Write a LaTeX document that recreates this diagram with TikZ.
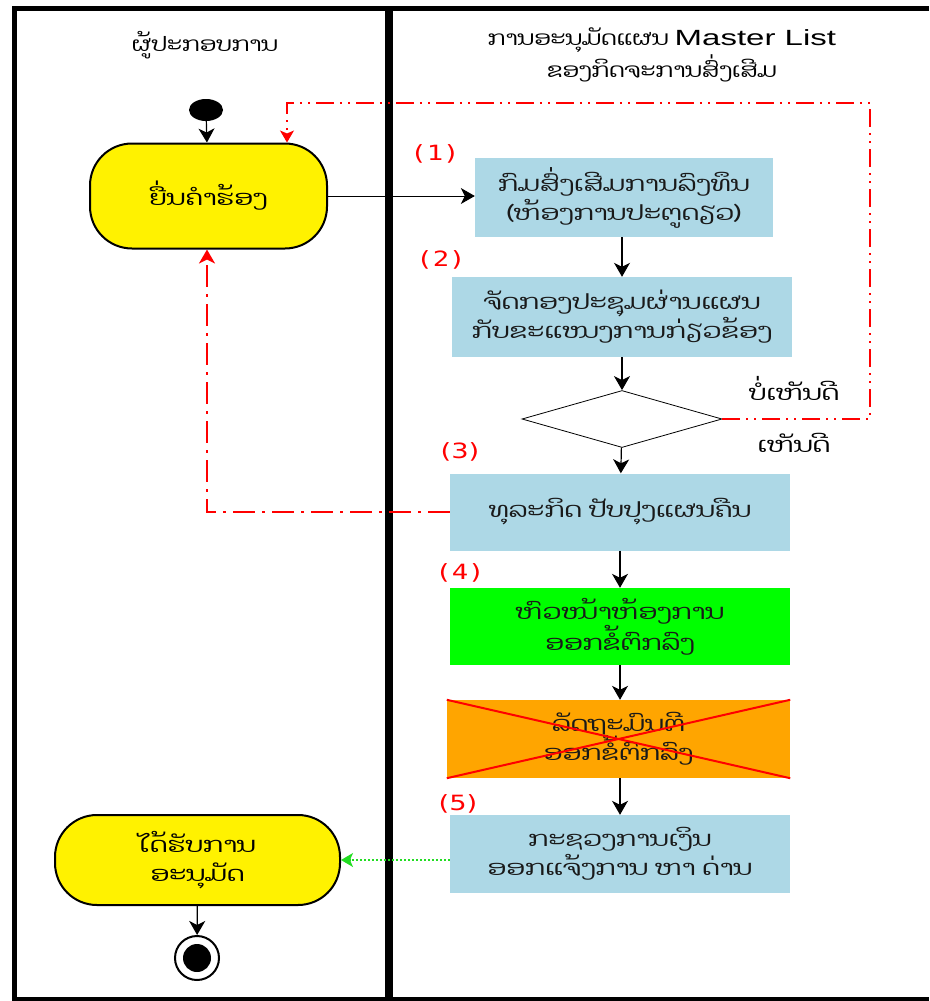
\documentclass[tikz,border=0pt]{standalone}
\usepackage{fontspec}
\usetikzlibrary{arrows.meta,shapes.geometric}
\newfontfamily\laofont[Script=Lao,FakeStretch=1.3]{Dhyana}
\newfontfamily\laohead[Script=Lao,FakeStretch=1.2]{Dhyana}
\newfontfamily\latinfont[FakeStretch=1.5]{Liberation Sans}
\newfontfamily\monofont[FakeStretch=1.3]{DejaVu Sans Mono}
\newfontfamily\dvfont[FakeStretch=1.3]{DejaVu Sans}
\definecolor{lblue}{HTML}{ADD8E6}
\definecolor{ygreen}{HTML}{00FF00}
\definecolor{orng}{HTML}{FFA500}
\definecolor{dotgreen}{HTML}{22DD22}
\tikzset{
  lao/.style={font=\laofont\fontsize{21}{29}\selectfont},
  laoh/.style={font=\laohead\fontsize{20}{32}\selectfont},
  actbox/.style={rectangle, inner sep=0pt, align=center, lao, text=black!90},
  startbox/.style={rectangle, rounded corners=42pt, draw=black, line width=2pt, fill=yellow, inner sep=0pt, align=center, lao},
  flow/.style={draw=black, line width=1.2pt, -{Stealth[length=14pt,width=16pt,inset=4pt]}},
  numlbl/.style={text=red, font=\monofont\fontsize{21}{24}\selectfont, inner sep=0pt},
  numlblb/.style={text=red, font=\dvfont\fontsize{21}{24}\selectfont, inner sep=0pt},
  redthin/.style={draw=red, line width=1.1pt, dash pattern=on 18pt off 6pt on 2pt off 6pt on 2pt off 6pt},
  redthick/.style={draw=red, line width=2.8pt, dash pattern=on 22pt off 7pt on 3pt off 7pt},
  frame/.style={draw=black, line width=5pt},
}
\begin{document}
\begin{tikzpicture}[x=1pt,y=-1pt]
\useasboundingbox (0,0) rectangle (929,1001);
\fill[white] (0,0) rectangle (929,1001);
% frame
\draw[frame] (929,8.5) -- (14.5,8.5) -- (14.5,999) -- (929,999);
\draw[draw=black, line width=8pt] (389,8.5) -- (389,999);
% headers
\node[laoh] (h1) at (205,45) {ຜູ້ປະກອບການ};
\node[laoh, align=center] (h2) at (662,55) {ການອະນຸມັດແຜນ {\latinfont\fontsize{22}{32}\selectfont Master List}\\ຂອງກິດຈະການສົ່ງເສີມ};
% start
\node[ellipse, fill=black, minimum width=34pt, minimum height=22pt, inner sep=0pt] (st) at (206,110) {};
\node[startbox, minimum width=237pt, minimum height=105pt] (y1) at (208.5,196) {ຍື່ນຄຳຮ້ອງ};
% boxes
\node[actbox, fill=lblue, minimum width=298pt, minimum height=79pt] (b1) at (624,197.5) {ກົມສົ່ງເສີມການລົງທຶນ\\(ຫ້ອງການປະຕູດຽວ)};
\node[numlbl] (n1) at (435,154) {(1)};
\node[actbox, fill=lblue, minimum width=340pt, minimum height=80pt] (b2) at (622,317) {ຈັດກອງປະຊຸມຜ່ານແຜນ\\ກັບຂະແໜງການກ່ຽວຂ້ອງ};
\node[numlbl] (n2) at (441,260) {(2)};
\node[diamond, draw=black, line width=0.8pt, fill=white, minimum width=200pt, minimum height=57pt, inner sep=0pt] (d) at (622,419) {};
\node[lao] (no) at (794,388) {ບໍ່ເຫັນດີ};
\node[lao] (yes) at (794,443) {ເຫັນດີ};
\node[actbox, fill=lblue, minimum width=340pt, minimum height=77pt] (b3) at (620,512) {ທຸລະກິດ ປັບປຸງແຜນຄືນ};
\node[numlblb] (n3) at (460,452) {(3)};
\node[actbox, fill=ygreen, minimum width=340pt, minimum height=77pt] (b4) at (620,626.5) {ຫົວໜ້າຫ້ອງການ\\ອອກຂໍ້ຕົກລົງ};
\node[numlbl] (n4) at (460,573) {(4)};
\node[actbox, fill=orng, minimum width=343pt, minimum height=78pt] (b5) at (618.5,739) {ລັດຖະມົນຕີ\\ອອກຂໍ້ຕົກລົງ};
\draw[red, line width=2pt] (b5.north west) -- (b5.south east) (b5.south west) -- (b5.north east);
\node[actbox, fill=lblue, minimum width=340pt, minimum height=78pt] (b6) at (620,854) {ກະຊວງການເງິນ\\ອອກແຈ້ງການ ຫາ ດ່ານ};
\node[numlblb] (n5) at (458,804) {(5)};
\node[startbox, minimum width=285pt, minimum height=90pt] (y2) at (197.5,860) {ໄດ້ຮັບການ\\ອະນຸມັດ};
\node[circle, draw=black, line width=2pt, fill=white, minimum size=44pt, inner sep=0pt] (e) at (197,958) {};
\node[circle, fill=black, minimum size=28pt, inner sep=0pt] (e2) at (e) {};
% connectors
\draw[flow] (st) -- (y1);
\draw[flow, line width=0.9pt] (y1.east) -- (y1.east -| b1.west);
\draw[flow] (b1.south -| b2.north) -- (b2.north);
\draw[flow] (b2) -- (d);
\draw[flow] (d) -- (b3);
\draw[flow] (b3) -- (b4);
\draw[flow] (b4.south) -- (b4.south |- b5.north);
\draw[flow] (b5.south -| b6.north) -- (b6.north);
\draw[flow] (y2) -- (e);
\coordinate (t1) at (870,103);
\coordinate (t2) at (287,103);
\draw[redthin, -{Stealth[length=12pt,width=14pt,inset=3pt]}] (d.east) -- (d.east -| t1) -- (t1) -- (t2) -- (t2 |- y1.north);
\coordinate (t3) at (207,512);
\draw[redthick, -{Stealth[length=14pt,width=16pt,inset=4pt]}] (b3.west) -- (t3) -- (t3 |- y1.south);
\draw[draw=dotgreen, line width=1.2pt, dash pattern=on 2pt off 2pt, -{Stealth[length=12pt,width=14pt,inset=3pt]}] (b6.west |- y2.east) -- (y2.east);
\end{tikzpicture}
\end{document}
